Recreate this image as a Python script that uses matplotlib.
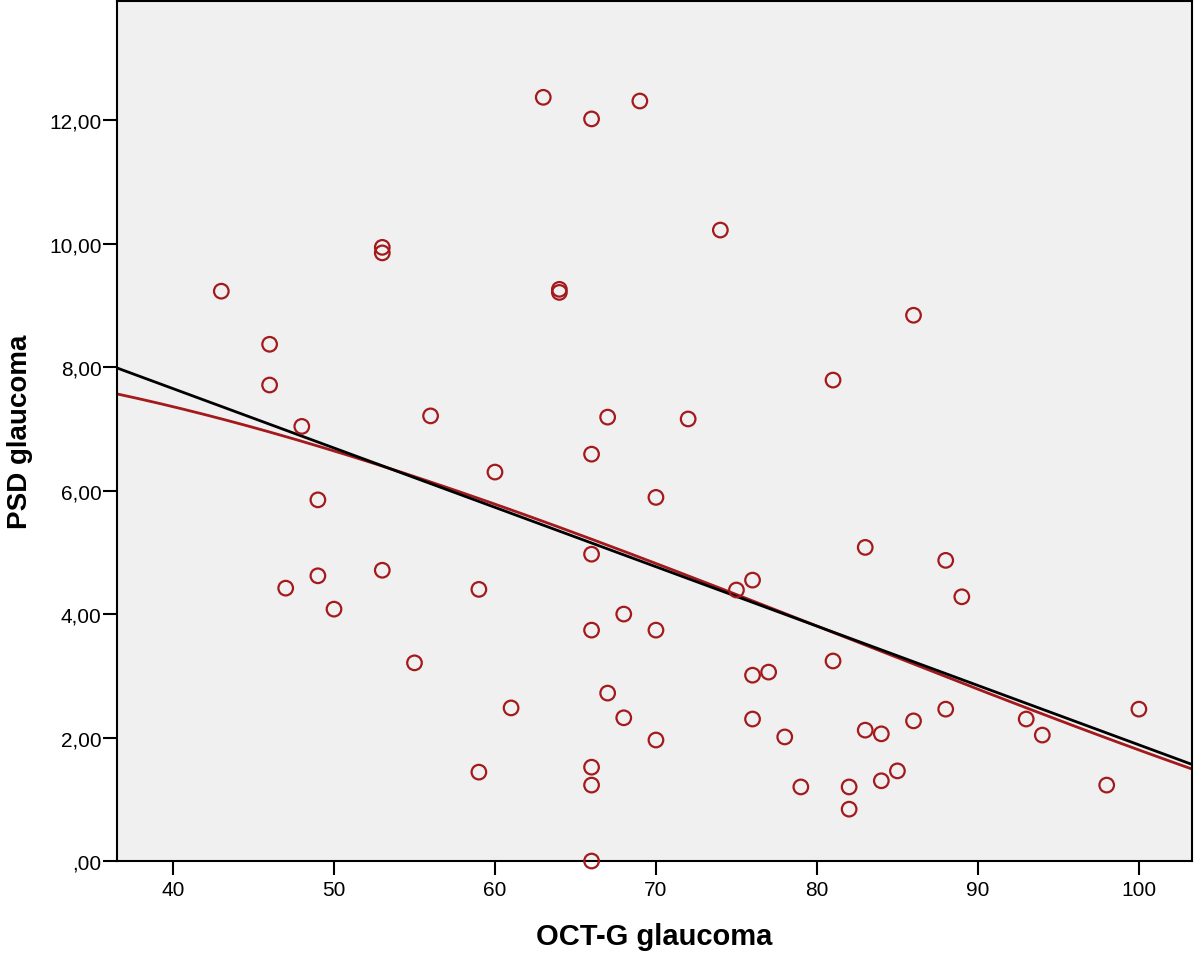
import numpy as np
import matplotlib
matplotlib.use("Agg")
from matplotlib import pyplot as plt
from matplotlib.ticker import FuncFormatter

plt.rcParams['font.family'] = ['Liberation Sans', 'DejaVu Sans']

# OCT-G glaucoma vs PSD glaucoma
oct_g = [43, 46, 46, 48, 49, 47, 49, 50, 53, 53, 53, 55, 56, 59, 59, 60, 61,
         63, 66, 64, 64, 66, 66, 66, 66, 66, 66, 67, 67, 68, 68, 69, 70, 70, 70,
         72, 74, 75, 76, 76, 76, 77, 78, 79, 81, 81, 82, 82, 83, 83, 84, 84, 85,
         86, 86, 88, 88, 89, 93, 94, 98, 100]
psd = [9.23, 8.37, 7.71, 7.04, 5.85, 4.42, 4.62, 4.08, 9.94, 9.85, 4.71, 3.21,
       7.21, 4.40, 1.44, 6.30, 2.48, 12.37, 12.02, 9.26, 9.21, 6.59, 4.97, 3.74,
       1.52, 1.23, 0.0, 7.19, 2.72, 4.00, 2.32, 12.31, 5.89, 3.74, 1.96, 7.16,
       10.22, 4.39, 4.55, 3.01, 2.30, 3.06, 2.01, 1.20, 7.79, 3.24, 1.20, 0.84,
       5.08, 2.12, 2.06, 1.30, 1.46, 8.84, 2.27, 4.87, 2.46, 4.28, 2.30, 2.04,
       1.23, 2.46]

x_ticks = [40, 50, 60, 70, 80, 90, 100]
y_ticks = [0, 2, 4, 6, 8, 10, 12]

x = np.array(oct_g, dtype=float)
y = np.array(psd)

fig = plt.figure(figsize=(11.95, 9.54), dpi=100)
ax = fig.add_axes([0.0979, 0.0964, 0.8996, 0.9015])
ax.set_facecolor('#f0f0f0')

xlim = (36.52, 103.3)
ylim = (0, 13.93)

ax.scatter(x, y, s=110, facecolors='none', edgecolors='#a3191c',
           linewidths=1.6, zorder=3, clip_on=False)

# fit lines: linear (black) and cubic (red)
xs = np.linspace(xlim[0], xlim[1], 200)
lin = np.polyfit(x, y, 1)
cub = np.polyfit(x, y, 3)
ax.plot(xs, np.polyval(cub, xs), color='#a3191c', lw=2, zorder=2)
ax.plot(xs, np.polyval(lin, xs), color='black', lw=2, zorder=2)

ax.set_xlim(*xlim)
ax.set_ylim(*ylim)
ax.set_xticks(x_ticks)
ax.set_yticks(y_ticks)


def comma_fmt(v, pos):
    s = f"{v:.2f}".replace('.', ',')
    return s[1:] if s.startswith('0,') else s


ax.yaxis.set_major_formatter(FuncFormatter(comma_fmt))
ax.tick_params(direction='out', length=10, width=1.5, labelsize=15,
               colors='black')
ax.tick_params(axis='y', pad=1)
ax.tick_params(axis='x', pad=4)
for sp in ax.spines.values():
    sp.set_linewidth(1.5)
    sp.set_color('black')

ax.set_xlabel('OCT-G glaucoma', fontsize=21, fontweight='bold', labelpad=16)
ax.set_ylabel('PSD glaucoma', fontsize=20, fontweight='bold', labelpad=12)

fig.savefig('out.png', dpi=100)
